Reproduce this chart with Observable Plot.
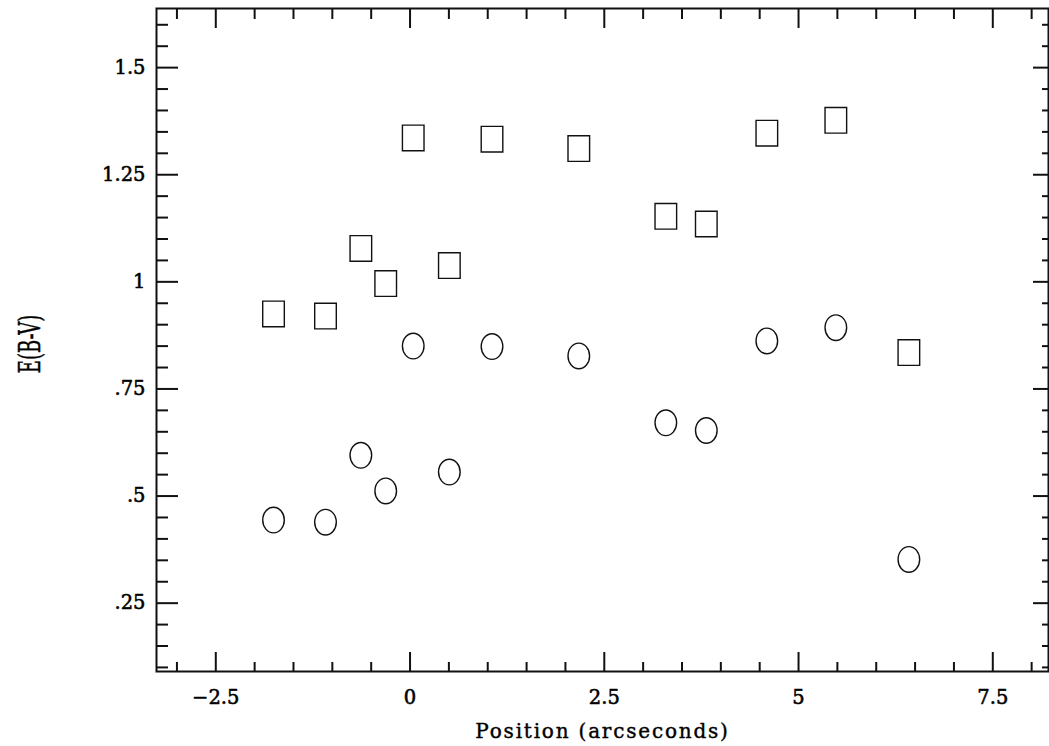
<!DOCTYPE html>
<html>
<head>
<meta charset="utf-8">
<script src="https://cdn.jsdelivr.net/npm/d3@7"></script>
<script src="https://cdn.jsdelivr.net/npm/@observablehq/plot@0.6"></script>
<style>
  html, body { margin: 0; padding: 0; background: #fff; }
  #chart svg { display: block; }
</style>
</head>
<body>
<div id="chart"></div>
<script>
// ---- data ----
const positions = [-1.757, -1.088, -0.633, -0.313, 0.041, 0.506, 1.055, 2.172, 3.292, 3.813, 4.592, 5.480, 6.420];
const squareValues = [0.925, 0.920, 1.078, 0.996, 1.336, 1.038, 1.333, 1.311, 1.153, 1.135, 1.347, 1.377, 0.835];
const circleValues = [0.444, 0.439, 0.595, 0.512, 0.850, 0.556, 0.849, 0.827, 0.671, 0.653, 0.862, 0.893, 0.352];

const xTickValues = [-2.5, 0, 2.5, 5, 7.5];
const xTickLabels = ["\u22122.5", "0", "2.5", "5", "7.5"];
const xMinorTicks = [-3, -2, -1.5, -1, -0.5, 0.5, 1, 1.5, 2, 3, 3.5, 4, 4.5, 5.5, 6, 6.5, 7, 8];
const yTickValues = [0.25, 0.5, 0.75, 1, 1.25, 1.5];
const yTickLabels = [".25", ".5", ".75", "1", "1.25", "1.5"];
const yMinorTicks = [0.1, 0.15, 0.2, 0.3, 0.35, 0.4, 0.45, 0.55, 0.6, 0.65, 0.7, 0.8, 0.85, 0.9, 0.95,
                     1.05, 1.1, 1.15, 1.2, 1.3, 1.35, 1.4, 1.45, 1.55, 1.6];
const xTitle = "Position (arcseconds)";
const yTitle = "E(B-V)";

// ---- layout ----
const width = 1049, height = 746;
const marginLeft = 156, marginRight = 1, marginTop = 8, marginBottom = 75;
const FW = width - marginLeft - marginRight;
const FH = height - marginTop - marginBottom;
const font = "'DejaVu Serif', serif";

const squares = positions.map((p, i) => ({x: p, y: squareValues[i]}));
const circles = positions.map((p, i) => ({x: p, y: circleValues[i]}));

// custom marker shapes (slightly tall, as in the reference)
const rectSymbol = {
  draw(ctx) {
    const w = 10.8, h = 12.8;
    ctx.moveTo(-w, -h); ctx.lineTo(w, -h); ctx.lineTo(w, h); ctx.lineTo(-w, h); ctx.closePath();
  }
};
const ellipseSymbol = {
  draw(ctx) {
    const rx = 10.8, ry = 12.8, k = 0.5523;
    ctx.moveTo(rx, 0);
    ctx.bezierCurveTo(rx, k * ry, k * rx, ry, 0, ry);
    ctx.bezierCurveTo(-k * rx, ry, -rx, k * ry, -rx, 0);
    ctx.bezierCurveTo(-rx, -k * ry, -k * rx, -ry, 0, -ry);
    ctx.bezierCurveTo(k * rx, -ry, rx, -k * ry, rx, 0);
    ctx.closePath();
  }
};

const tickStroke = {stroke: "#111", strokeWidth: 2};
const textInk = {fill: "#000", stroke: "#000", strokeWidth: 0.55};

const plot = Plot.plot({
  width, height, marginLeft, marginRight, marginTop, marginBottom,
  style: {fontFamily: font, fontSize: "19.5px", color: "#111", background: "#fff"},
  x: {domain: [-3.263, 8.217], axis: null},
  y: {domain: [0.0905, 1.638], axis: null},
  marks: [
    // inward ticks: left
    Plot.ruleY(yTickValues, {y: d => d, insetRight: FW - 22, ...tickStroke}),
    Plot.ruleY(yMinorTicks, {y: d => d, insetRight: FW - 12, ...tickStroke}),
    // right
    Plot.ruleY(yTickValues, {y: d => d, insetLeft: FW - 15, ...tickStroke}),
    Plot.ruleY(yMinorTicks, {y: d => d, insetLeft: FW - 6, ...tickStroke}),
    // bottom
    Plot.ruleX(xTickValues, {x: d => d, insetTop: FH - 19, ...tickStroke}),
    Plot.ruleX(xMinorTicks, {x: d => d, insetTop: FH - 9, ...tickStroke}),
    // top
    Plot.ruleX(xTickValues, {x: d => d, insetBottom: FH - 20, ...tickStroke}),
    Plot.ruleX(xMinorTicks, {x: d => d, insetBottom: FH - 11, ...tickStroke}),
    Plot.frame({stroke: "#111", strokeWidth: 2}),
    // tick labels
    Plot.text(xTickValues, {x: d => d, text: xTickLabels, frameAnchor: "bottom", dy: 26,
      lineAnchor: "middle", fontSize: 19.5, ...textInk}),
    Plot.text(yTickValues, {y: d => d, text: yTickLabels, frameAnchor: "left", dx: -11,
      textAnchor: "end", lineAnchor: "middle", fontSize: 19.5, ...textInk}),
    // x axis title
    Plot.text([xTitle], {text: d => d, frameAnchor: "bottom", dy: 60, lineAnchor: "middle",
      fontSize: 20, ...textInk, strokeWidth: 0.4}),
    // data
    Plot.dot(squares, {x: "x", y: "y", symbol: rectSymbol, r: 12, stroke: "#111", strokeWidth: 1.4, fill: "none"}),
    Plot.dot(circles, {x: "x", y: "y", symbol: ellipseSymbol, r: 12, stroke: "#111", strokeWidth: 1.4, fill: "none"})
  ]
});

document.getElementById("chart").appendChild(plot);

// letter spacing for the x title to match the wide setting of the reference
d3.select(plot).selectAll("text").filter(function () { return this.textContent === xTitle; })
  .style("letter-spacing", "1.8px");

// y axis title: condensed, rotated
d3.select(plot).append("text")
  .attr("transform", "translate(30,344) rotate(-90) scale(1,1.7)")
  .attr("text-anchor", "middle")
  .attr("dominant-baseline", "central")
  .attr("font-family", font)
  .attr("font-size", 18)
  .attr("fill", "#000")
  .attr("stroke", "#000")
  .attr("stroke-width", 0.3)
  .text(yTitle);
</script>
</body>
</html>
